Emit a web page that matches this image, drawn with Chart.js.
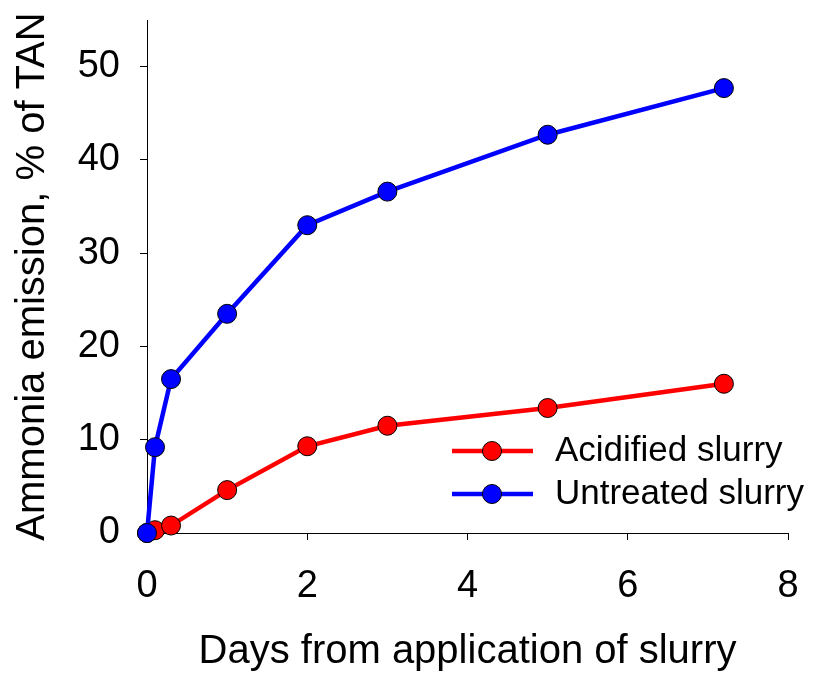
<!DOCTYPE html>
<html>
<head>
<meta charset="utf-8">
<script src="https://cdn.jsdelivr.net/npm/chart.js@4"></script>
<style>
html,body{margin:0;padding:0;background:#fff;}
canvas{display:block;}
</style>
</head>
<body>
<canvas id="c" width="815" height="674"></canvas>
<script>
const days = [0, 0.1, 0.3, 1, 2, 3, 5, 7.2];
const acidified = [0, 0.3, 0.8, 4.6, 9.3, 11.5, 13.4, 16.0];
const untreated = [0, 9.2, 16.5, 23.5, 33.0, 36.6, 42.7, 47.7];
const seriesNames = ['Acidified slurry', 'Untreated slurry'];
const xTicks = [0, 2, 4, 6, 8];
const yTicks = [0, 10, 20, 30, 40, 50];
const xTitle = 'Days from application of slurry';
const yTitle = 'Ammonia emission, % of TAN';

const FONT = '"Liberation Sans", Arial, sans-serif';
Chart.defaults.font.family = FONT;
Chart.defaults.color = '#000';

const toPts = (ys) => days.map((d, i) => ({x: d, y: ys[i]}));

const zeroPad = (s) => { s.paddingTop = 0; s.paddingBottom = 0; s.paddingLeft = 0; s.paddingRight = 0; };

const legendPlugin = {
  id: 'customLegend',
  afterDraw(chart) {
    const ctx = chart.ctx;
    const rows = [451, 494];
    chart.data.datasets.forEach((ds, i) => {
      const y = rows[i];
      ctx.save();
      ctx.strokeStyle = ds.borderColor;
      ctx.lineWidth = ds.borderWidth;
      ctx.beginPath();
      ctx.moveTo(452, y);
      ctx.lineTo(533, y);
      ctx.stroke();
      ctx.beginPath();
      ctx.arc(492, y, ds.pointRadius, 0, Math.PI * 2);
      ctx.fillStyle = ds.pointBackgroundColor;
      ctx.fill();
      ctx.lineWidth = 1;
      ctx.strokeStyle = '#000';
      ctx.stroke();
      ctx.fillStyle = '#000';
      ctx.font = '35px ' + FONT;
      ctx.textBaseline = 'alphabetic';
      ctx.textAlign = 'left';
      ctx.fillText(ds.label, 555, y + 10);
      ctx.restore();
    });
  }
};

new Chart(document.getElementById('c'), {
  type: 'line',
  data: {
    datasets: [
      {
        label: seriesNames[0],
        data: toPts(acidified),
        borderColor: '#ff0000',
        backgroundColor: '#ff0000',
        pointBackgroundColor: '#ff0000',
        pointBorderColor: '#000',
        pointBorderWidth: 1,
        pointRadius: 9.5,
        borderWidth: 4.5,
        tension: 0,
        clip: false,
        order: 2
      },
      {
        label: seriesNames[1],
        data: toPts(untreated),
        borderColor: '#0000ff',
        backgroundColor: '#0000ff',
        pointBackgroundColor: '#0000ff',
        pointBorderColor: '#000',
        pointBorderWidth: 1,
        pointRadius: 9.5,
        borderWidth: 4.5,
        tension: 0,
        clip: false,
        order: 1
      }
    ]
  },
  options: {
    responsive: false,
    animation: false,
    devicePixelRatio: 1,
    layout: {padding: {top: 20, right: 27, left: 0, bottom: 0}},
    plugins: {legend: {display: false}, tooltip: {enabled: false}},
    scales: {
      x: {
        type: 'linear',
        min: 0, max: 8,
        afterBuildTicks: (s) => { s.ticks = xTicks.map(v => ({value: v})); },
        afterFit: (s) => { s.height = 141; zeroPad(s); },
        grid: {display: true, drawOnChartArea: false, drawTicks: true, tickLength: 7, color: '#000', lineWidth: 1},
        border: {display: true, color: '#000', width: 1},
        ticks: {font: {size: 38}, color: '#000', padding: 24, maxRotation: 0},
        title: {display: true, text: xTitle, font: {size: 40}, color: '#000', padding: {top: 0, bottom: -2}}
      },
      y: {
        type: 'linear',
        min: 0, max: 55,
        afterBuildTicks: (s) => { s.ticks = yTicks.map(v => ({value: v})); },
        afterFit: (s) => { s.width = 147; zeroPad(s); },
        grid: {display: true, drawOnChartArea: false, drawTicks: true, tickLength: 7, color: '#000', lineWidth: 1},
        border: {display: true, color: '#000', width: 1},
        ticks: {font: {size: 38}, color: '#000', padding: 20},
        title: {display: true, text: yTitle, font: {size: 40}, color: '#000', padding: {top: 9, bottom: 0}}
      }
    }
  },
  plugins: [legendPlugin]
});
</script>
</body>
</html>
